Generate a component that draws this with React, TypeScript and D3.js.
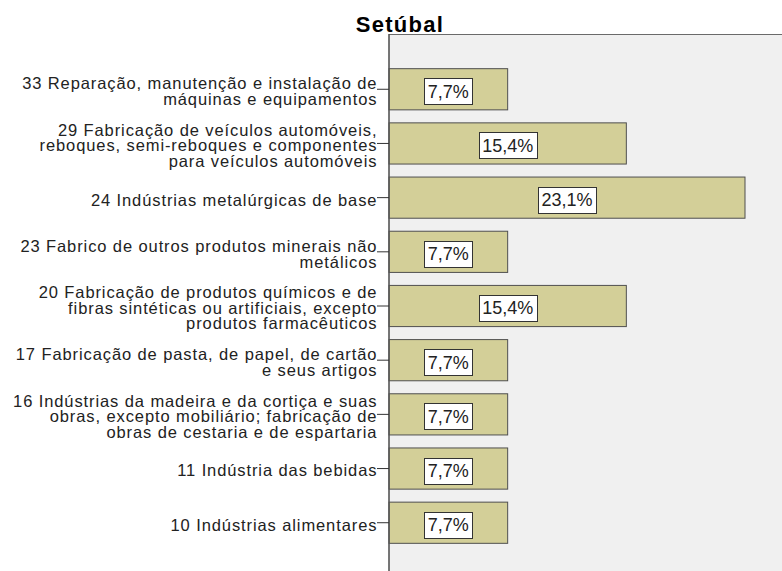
import React from "react";
import * as d3 from "d3";

const categories = [
  ["33 Reparação, manutenção e instalação de", "máquinas e equipamentos"],
  ["29 Fabricação de veículos automóveis,", "reboques, semi-reboques e componentes", "para veículos automóveis"],
  ["24 Indústrias metalúrgicas de base"],
  ["23 Fabrico de outros produtos minerais não", "metálicos"],
  ["20 Fabricação de produtos químicos e de", "fibras sintéticas ou artificiais, excepto", "produtos farmacêuticos"],
  ["17 Fabricação de pasta, de papel, de cartão", "e seus artigos"],
  ["16 Indústrias da madeira e da cortiça e suas", "obras, excepto mobiliário; fabricação de", "obras de cestaria e de espartaria"],
  ["11 Indústria das bebidas"],
  ["10 Indústrias alimentares"]
];
const values = [7.7, 15.4, 23.1, 7.7, 15.4, 7.7, 7.7, 7.7, 7.7];
const title = "Setúbal";

const w = 782;
const h = 571;
const plotLeft = 389;
const plotTop = 34;

const fmt = (v: number) => v.toFixed(1).replace(".", ",") + "%";

let ctx: CanvasRenderingContext2D | null = null;
function measure(text: string, font: string) {
  if (!ctx) ctx = document.createElement("canvas").getContext("2d");
  if (!ctx) return text.length * 9;
  ctx.font = font;
  return ctx.measureText(text).width;
}

export default function App() {
  const ids = categories.map((c, i) => String(i));

  const y = d3
    .scaleBand()
    .domain(ids)
    .range([plotTop, 578])
    .paddingInner(0.24)
    .paddingOuter(0.64);

  const x = d3.scaleLinear().domain([0, 23.1]).range([plotLeft, 745]);

  const lineH = 15.5;
  const font = "Liberation Sans, Arial, sans-serif";
  const ls = 0.9;

  return (
    <svg
      width={w}
      height={h}
      style={{ position: "absolute", left: 0, top: 0, background: "#fff" }}
    >
      <rect x={plotLeft} y={plotTop} width={w - plotLeft} height={h - plotTop} fill="#f0f0f0" />
      <line x1={plotLeft} x2={w} y1={plotTop + 0.5} y2={plotTop + 0.5} stroke="#6a6a6a" strokeWidth={1} />

      {values.map((v, i) => {
        const by = y(String(i))!;
        const bh = y.bandwidth();
        const cx = (x(0) + x(v)) / 2;
        const cy = by + bh / 2 + 2;
        const label = fmt(v);
        const tw = measure(label, "18px Liberation Sans");
        const boxW = Math.round(tw + 7);
        return (
          <g key={i}>
            <rect
              x={x(0)}
              y={by}
              width={x(v) - x(0)}
              height={bh}
              fill="#d3cf98"
              stroke="#4f4f4f"
              strokeWidth={1}
            />
            <rect
              x={Math.round(cx - boxW / 2) + 0.5}
              y={Math.round(cy - 13) + 0.5}
              width={boxW}
              height={26}
              fill="#fff"
              stroke="#333"
              strokeWidth={1}
            />
            <text
              x={cx}
              y={cy}
              dy="0.36em"
              textAnchor="middle"
              fontFamily={font}
              fontSize={18}
              fill="#222"
            >
              {label}
            </text>
          </g>
        );
      })}

      <line x1={plotLeft} x2={plotLeft} y1={plotTop} y2={h} stroke="#555" strokeWidth={1.6} />

      {categories.map((lines, i) => {
        const c = y(String(i))! + y.bandwidth() / 2;
        return (
          <g key={i}>
            <line x1={377} x2={plotLeft} y1={c} y2={c} stroke="#333" strokeWidth={1} />
            {lines.map((t, j) => (
              <text
                key={j}
                x={376.5 + ls}
                y={c + (j - (lines.length - 1) / 2) * lineH + 2}
                dy="0.36em"
                textAnchor="end"
                fontFamily={font}
                fontSize={16.5}
                letterSpacing={ls}
                fill="#222"
              >
                {t}
              </text>
            ))}
          </g>
        );
      })}

      <text
        x={400}
        y={32}
        textAnchor="middle"
        fontFamily={font}
        fontWeight="bold"
        fontSize={22}
        letterSpacing={1.3}
        fill="#000"
      >
        {title}
      </text>
    </svg>
  );
}
